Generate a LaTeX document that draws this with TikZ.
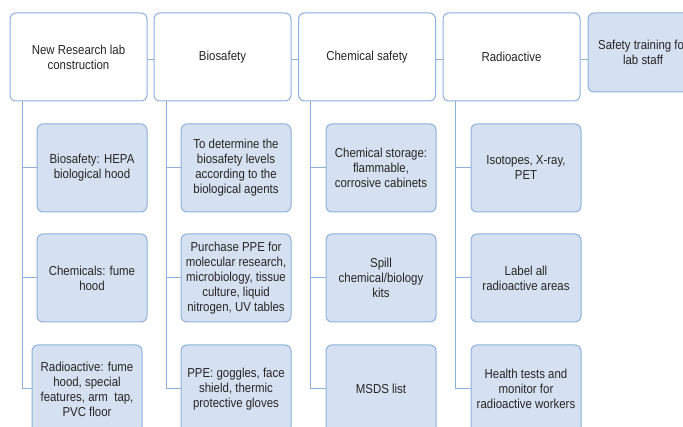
\documentclass[tikz,border=0pt]{standalone}
\usepackage{fontspec}
\setmainfont{Liberation Sans}[FakeStretch=0.88]
\definecolor{edge}{HTML}{8EB1DC}
\definecolor{leaf}{HTML}{D5E0F0}
\definecolor{ink}{HTML}{262626}
\begin{document}
\begin{tikzpicture}[x=1pt,y=-1pt,
  every node/.style={font=\fontsize{13}{15}\selectfont, text=ink, align=center, inner sep=1pt},
  topbox/.style={draw=edge, line width=1pt, fill=white, rounded corners=6pt, minimum width=137pt, minimum height=88pt},
  leafbox/.style={draw=edge, line width=1pt, fill=leaf, rounded corners=6pt, minimum width=110pt, minimum height=88pt},
  link/.style={draw=edge, line width=1pt}]
\useasboundingbox (0,0) rectangle (683,427);
% top row
\node[topbox] (t1) at (78.5,57) {New Research lab\\construction};
\node[topbox] (t2) at (222.5,57) {Biosafety};
\node[topbox] (t3) at (367,57) {Chemical safety};
\node[topbox] (t4) at (511.5,57) {Radioactive};
\node[leafbox, minimum height=79pt] (t5) at (643,52.5) {Safety training for\\lab staff};
% children column 1
\node[leafbox] (c11) at (92,168) {Biosafety: HEPA\\biological hood};
\node[leafbox] (c12) at (92,278) {Chemicals: fume\\hood};
\node[leafbox] (c13) at (87,389) {Radioactive: fume\\hood, special\\features, arm\ \ tap,\\PVC floor};
% column 2
\node[leafbox] (c21) at (236,168) {To determine the\\biosafety levels\\according to the\\biological agents};
\node[leafbox] (c22) at (236,278) {Purchase PPE for\\molecular research,\\microbiology, tissue\\culture, liquid\\nitrogen, UV tables};
\node[leafbox] (c23) at (236,389) {PPE: goggles, face\\shield, thermic\\protective gloves};
% column 3
\node[leafbox] (c31) at (381,168) {Chemical storage:\\flammable,\\corrosive cabinets};
\node[leafbox] (c32) at (381,278) {Spill\\chemical/biology\\kits};
\node[leafbox] (c33) at (381,389) {MSDS list};
% column 4
\node[leafbox] (c41) at (526,168) {Isotopes, X-ray,\\PET};
\node[leafbox] (c42) at (526,278) {Label all\\radioactive areas};
\node[leafbox] (c43) at (526,389) {Health tests and\\monitor for\\radioactive workers};
% horizontal links in top row
\draw[link] (t1.east |- 0,60) -- (t2.west |- 0,60);
\draw[link] (t2.east |- 0,60) -- (t3.west |- 0,60);
\draw[link] (t3.east |- 0,60) -- (t4.west |- 0,60);
\draw[link] (t4.east |- 0,60) -- (t5.west |- 0,60);
% tree links
\foreach \c in {1,2,3,4}{
  \foreach \r in {1,2,3}{
    \draw[link] ([xshift=12.7pt]t\c.south west) |- (c\c\r.west);
  }
}
\end{tikzpicture}
\end{document}
